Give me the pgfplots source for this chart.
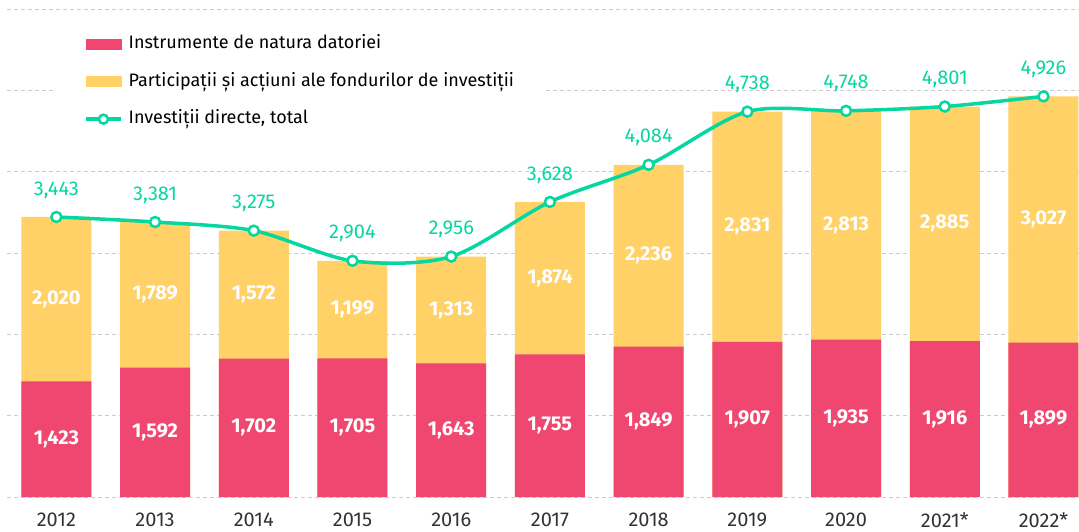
\documentclass[border=0pt]{standalone}
\usepackage{fontspec}
\setmainfont{Fira Sans}
\usepackage{pgfplots}
\pgfplotsset{compat=1.18}
\usepackage{pgfplotstable}
\definecolor{cpink}{HTML}{EF476F}
\definecolor{cyellow}{HTML}{FFD166}
\definecolor{cgreen}{HTML}{06D6A0}
\definecolor{cgrid}{HTML}{CCCCCC}
\definecolor{ctick}{HTML}{333333}
\pgfplotstableread{
x debt equity total
0 1423 2020 3443
1 1592 1789 3381
2 1702 1572 3275
3 1705 1199 2904
4 1643 1313 2956
5 1755 1874 3628
6 1849 2236 4084
7 1907 2831 4738
8 1935 2813 4748
9 1916 2885 4801
10 1899 3027 4926
}\data
\newcommand{\fs}{\fontsize{18}{20}\selectfont}
\newcommand{\fn}{\fontsize{20}{22}\selectfont}
\begin{document}
\begin{tikzpicture}
\useasboundingbox (0,0) rectangle (1079pt,531pt);
\begin{axis}[
  at={(7pt,34pt)}, anchor=south west,
  scale only axis, width=1072pt, height=488pt,
  xmin=-0.5, xmax=10.36, ymin=0, ymax=6000,
  axis line style={draw=none},
  ytick={0,1000,...,6000}, yticklabels={},
  ymajorgrids, grid style={cgrid, dash pattern=on 4pt off 3pt, line width=0.9pt},
  xtick={0,...,10},
  xticklabels={2012,2013,2014,2015,2016,2017,2018,2019,2020,2021*,2022*},
  major tick length=0pt,
  xticklabel style={font=\fn, text=ctick, anchor=center, yshift=-23pt},
  clip=false,
  legend cell align=left,
  legend style={draw=none, fill=white, anchor=north west,
    at={(axis description cs:0.0448,0.956)},
    inner xsep=29pt, inner ysep=6pt, font=\fs,
    row sep=22.5pt, column sep=6pt,
    nodes={inner sep=0pt, text height=12pt, text depth=3pt}},
]
\addplot[ybar, bar width=70pt, bar shift=0pt, fill=cyellow, draw=none, forget plot]
  table[x=x, y=total] {\data};
\addplot[ybar, bar width=70pt, bar shift=0pt, fill=cpink, draw=none, forget plot]
  table[x=x, y=debt] {\data};
\addplot[draw=none, mark=none, forget plot, point meta=explicit,
  nodes near coords={\pgfmathprintnumber[assume math mode=true,1000 sep={,}]{\pgfplotspointmeta}},
  every node near coord/.style={font=\fn\bfseries, text=white, anchor=center}]
  table[x=x, y expr=\thisrow{debt}/2, meta=debt] {\data};
\addplot[draw=none, mark=none, forget plot, point meta=explicit,
  nodes near coords={\pgfmathprintnumber[assume math mode=true,1000 sep={,}]{\pgfplotspointmeta}},
  every node near coord/.style={font=\fn\bfseries, text=white, anchor=center}]
  table[x=x, y expr=\thisrow{debt}+\thisrow{equity}/2, meta=equity] {\data};
\addplot[cgreen, line width=3.5pt, smooth, tension=0.5, forget plot,
  mark=*, mark size=5pt, mark options={fill=white, draw=cgreen, line width=2.5pt},
  point meta=explicit,
  nodes near coords={\pgfmathprintnumber[assume math mode=true,1000 sep={,}]{\pgfplotspointmeta}},
  every node near coord/.style={font=\fn, text=cgreen, anchor=center, yshift=27pt}]
  table[x=x, y=total, meta=total] {\data};
\addlegendimage{legend image code/.code={\fill[cpink] (0pt,-5pt) rectangle (35pt,5pt);}}
\addlegendentry{Instrumente de natura datoriei}
\addlegendimage{legend image code/.code={\fill[cyellow] (0pt,-5pt) rectangle (35pt,5pt);}}
\addlegendentry{Participații și acțiuni ale fondurilor de investiții}
\addlegendimage{legend image code/.code={\draw[cgreen, line width=3.5pt] (0pt,0pt) -- (35pt,0pt); \draw[cgreen, line width=2.5pt, fill=white] (17.5pt,0pt) circle (4.5pt);}}
\addlegendentry{Investiții directe, total}
\end{axis}
\end{tikzpicture}
\end{document}
